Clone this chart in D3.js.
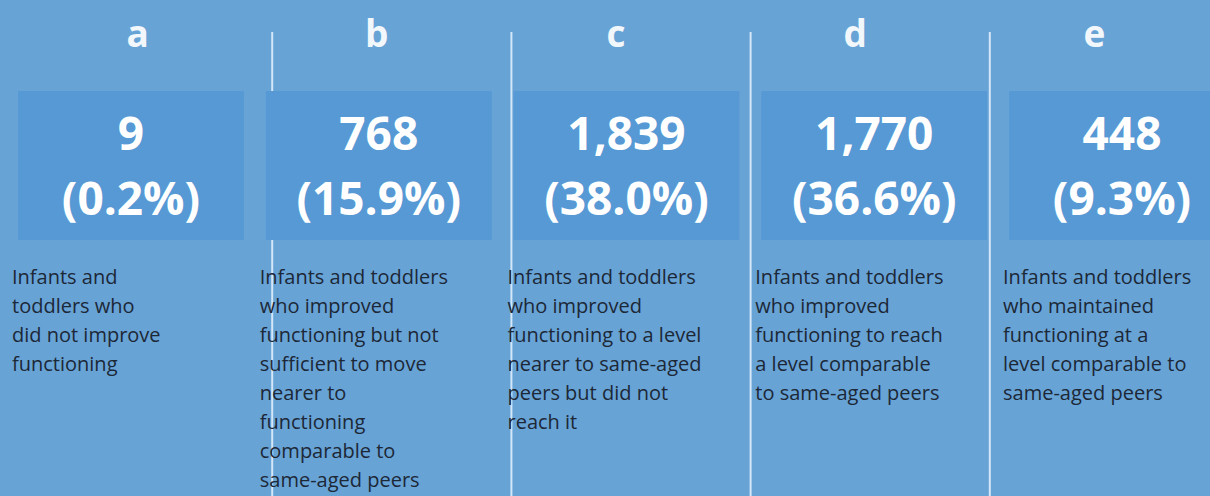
<!DOCTYPE html>
<html>
<head>
<meta charset="utf-8">
<script src="https://cdn.jsdelivr.net/npm/d3@7"></script>
<style>
  body { margin: 0; background: #68a3d6; overflow: hidden; }
  svg { display: block; }
</style>
</head>
<body>
<div id="chart"></div>
<script>
const width = 1210;
const height = 496;

// outcome categories
const keys = ["a", "b", "c", "d", "e"];
const counts = [9, 768, 1839, 1770, 448];
const percents = [0.2, 15.9, 38.0, 36.6, 9.3];
const descriptions = [
  ["Infants and", "toddlers who", "did not improve", "functioning"],
  ["Infants and toddlers", "who improved", "functioning but not", "sufficient to move", "nearer to", "functioning", "comparable to", "same-aged peers"],
  ["Infants and toddlers", "who improved", "functioning to a level", "nearer to same-aged", "peers but did not", "reach it"],
  ["Infants and toddlers", "who improved", "functioning to reach", "a level comparable", "to same-aged peers"],
  ["Infants and toddlers", "who maintained", "functioning at a", "level comparable to", "same-aged peers"],
];

const rows = keys.map((k, i) => ({
  key: k,
  count: counts[i],
  pct: percents[i],
  desc: descriptions[i],
}));

const svg = d3
  .select("#chart")
  .append("svg")
  .attr("width", width)
  .attr("height", height);

//-------scales-------//
// column grid (dividers + letters)
const col = d3.scaleBand().domain(keys).range([33, 1229]);
// boxes
const box = d3
  .scaleBand()
  .domain(keys)
  .range([18, 1235])
  .paddingInner(0.088);

//-------dividers-------//
svg
  .append("g")
  .attr("class", "dividers")
  .selectAll("line")
  .data(keys.slice(1))
  .join("line")
  .attr("x1", (d) => col(d))
  .attr("x2", (d) => col(d))
  .attr("y1", 32)
  .attr("y2", height)
  .attr("stroke", "#d3e7f8")
  .attr("stroke-width", 2);

//-------boxes-------//
svg
  .append("g")
  .attr("class", "boxes")
  .selectAll("rect")
  .data(rows)
  .join("rect")
  .attr("x", (d) => box(d.key))
  .attr("y", 91)
  .attr("width", box.bandwidth())
  .attr("height", 149)
  .attr("fill", "#5799d4");

//-------letters-------//
svg
  .append("g")
  .attr("class", "letters")
  .selectAll("text")
  .data(rows)
  .join("text")
  .attr("x", (d) => col(d.key) + col.bandwidth() / 2 - 15)
  .attr("y", 47)
  .attr("text-anchor", "middle")
  .attr("font-family", "Open Sans, sans-serif")
  .attr("font-weight", 700)
  .attr("font-size", 37)
  .attr("fill", "#f2f7fc")
  .text((d) => d.key);

//-------numbers-------//
const nums = svg
  .append("g")
  .attr("class", "numbers")
  .selectAll("text")
  .data(rows)
  .join("text")
  .attr("text-anchor", "middle")
  .attr("font-family", "Open Sans, sans-serif")
  .attr("font-weight", 700)
  .attr("font-size", 46)
  .attr("fill", "#ffffff");

nums
  .append("tspan")
  .attr("x", (d) => box(d.key) + box.bandwidth() / 2)
  .attr("y", 150)
  .text((d) => d3.format(",")(d.count));
nums
  .append("tspan")
  .attr("x", (d) => box(d.key) + box.bandwidth() / 2)
  .attr("y", 215)
  .text((d) => "(" + d3.format(".1f")(d.pct) + "%)");

//-------descriptions-------//
svg
  .append("g")
  .attr("class", "descriptions")
  .selectAll("text")
  .data(rows)
  .join("text")
  .attr("font-family", "Open Sans, sans-serif")
  .attr("font-size", 20)
  .attr("fill", "#1c2836")
  .each(function (d) {
    d3.select(this)
      .selectAll("tspan")
      .data(d.desc)
      .join("tspan")
      .attr("x", box(d.key) - 6)
      .attr("y", (t, j) => 284 + j * 29)
      .text((t) => t);
  });
</script>
</body>
</html>
